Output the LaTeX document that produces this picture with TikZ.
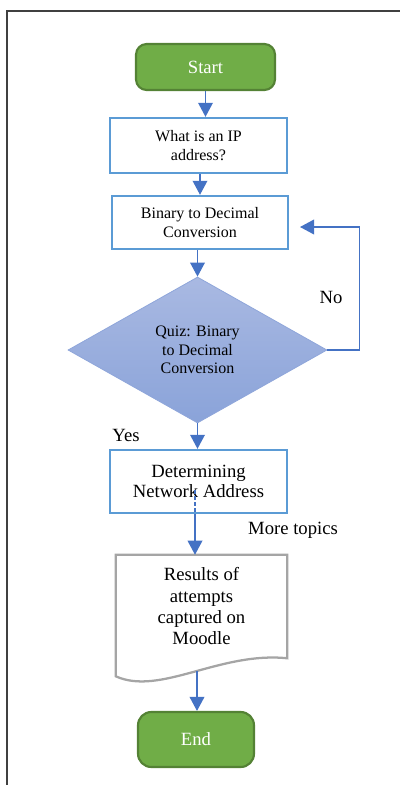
\documentclass[tikz,border=0pt]{standalone}
\usepackage{fontspec}
\setmainfont{Liberation Serif}
\usetikzlibrary{shapes.geometric,arrows.meta,calc}
\definecolor{boxblue}{HTML}{5B9BD5}
\definecolor{arrblue}{HTML}{4472C4}
\definecolor{grfill}{HTML}{70AD47}
\definecolor{grline}{HTML}{548235}
\definecolor{dtop}{HTML}{A9B9E2}
\definecolor{dbot}{HTML}{8AA3D9}
\definecolor{dline}{HTML}{8FA6DA}
\definecolor{docline}{HTML}{A5A5A5}
\definecolor{framecol}{HTML}{404040}
\begin{document}
\begin{tikzpicture}[x=0.75pt,y=-0.75pt,
  term/.style={draw=grline, fill=grfill, line width=1.6pt, rounded corners=8pt,
    text=white, font=\fontsize{14}{16}\selectfont, inner sep=0pt},
  procbox/.style={draw=boxblue, fill=white, line width=1.8pt, align=center, inner sep=0pt},
  arr/.style={draw=arrblue, line width=1pt, -{Triangle[width=11pt,length=10.5pt]}},
  lbl/.style={font=\fontsize{14}{16}\selectfont, inner sep=0pt}]
\useasboundingbox (0,0) rectangle (400,785);
\draw[framecol, line width=1.1pt] (7,785) -- (7,11) -- (400,11);

\node[term, minimum width=139*0.75pt, minimum height=46*0.75pt] (start) at (205.5,67) {Start};
\node[procbox, minimum width=177*0.75pt, minimum height=55*0.75pt,
  font=\fontsize{12}{13.8}\selectfont] (q1) at (198.5,145.5) {What is an IP\\address?};
\node[procbox, minimum width=176*0.75pt, minimum height=53*0.75pt,
  font=\fontsize{12}{13.8}\selectfont] (q2) at (200,222.5) {Binary to Decimal\\Conversion};
\node[diamond, aspect=1.77, minimum width=259*0.75pt, minimum height=146*0.75pt,
  top color=dtop, bottom color=dbot, draw=dline, line width=0.6pt, align=center,
  inner sep=0pt, font=\fontsize{12}{13.8}\selectfont] (quiz) at (197.5,350)
  {Quiz: Binary\\to Decimal\\Conversion};
\node[procbox, minimum width=177*0.75pt, minimum height=63*0.75pt,
  font=\fontsize{14}{15.5}\selectfont] (q3) at (198.5,481.5) {Determining\\Network Address};
\node[align=center, inner sep=0pt, minimum width=171*0.75pt, minimum height=103*0.75pt,
  font=\fontsize{14}{16}\selectfont] (doc) at (201.5,606.5)
  {Results of\\attempts\\captured on\\Moodle};
\draw[docline, line width=1.7pt] (doc.south east) -- (doc.north east) -- (doc.north west)
  -- ($(doc.south west)+(0,18)$) .. controls ($(doc.south west)+(44,38)$) and ($(doc.south west)+(104,-7)$) .. (doc.south east) -- cycle;
\node[term, rounded corners=10pt, minimum width=116*0.75pt, minimum height=55*0.75pt] (endn) at (196,739.5) {End};

\node[lbl] (nolbl) at (331,297) {No};
\node[lbl] (yeslbl) at (126,435) {Yes};
\node[lbl] (morelbl) at (293,530) {More topics};

\draw[arr] (start.south) -- (start.south |- q1.north);
\draw[arr] (q2.north |- q1.south) -- (q2.north);
\draw[arr] (quiz.north |- q2.south) -- (quiz.north);
\draw[arr] (quiz.south) -- (quiz.south |- q3.north);
\coordinate (notip) at (300,227);
\draw[arr] (quiz.east) -- ++(32,0) |- (notip);
\coordinate (dstart) at (195,490);
\draw[arrblue, line width=0.8pt, dash pattern=on 3pt off 1.5pt] (dstart) -- (dstart |- q3.south);
\draw[arr] (dstart |- q3.south) -- (dstart |- doc.north);
\coordinate (docbot) at (197,671);
\draw[arr] (docbot) -- (docbot |- endn.north);
\end{tikzpicture}
\end{document}
